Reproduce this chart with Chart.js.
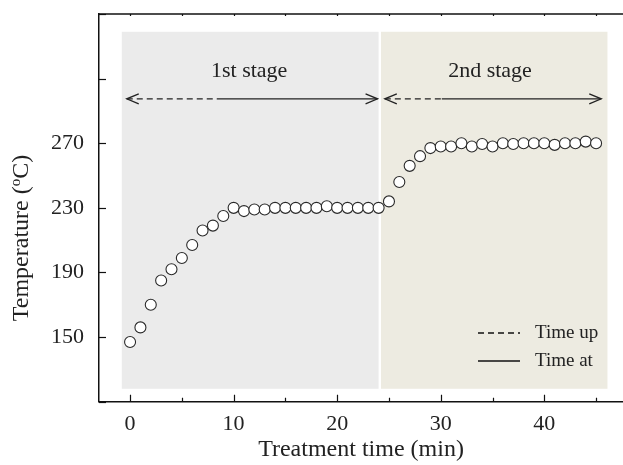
<!DOCTYPE html>
<html>
<head>
<meta charset="utf-8">
<script src="https://cdn.jsdelivr.net/npm/chart.js@4/dist/chart.umd.min.js"></script>
<style>
  html, body { margin: 0; padding: 0; background: #fff; }
</style>
</head>
<body>
<canvas id="tempChart" width="623" height="465"></canvas>
<script>
'use strict'

// treatment time (min) and measured temperature (C)
const minutes = [0, 1, 2, 3, 4, 5, 6, 7, 8, 9, 10, 11, 12, 13, 14, 15, 16, 17, 18, 19, 20, 21, 22,
  23, 24, 25, 26, 27, 28, 29, 30, 31, 32, 33, 34, 35, 36, 37, 38, 39, 40, 41, 42, 43, 44, 45]
const temperature = [147, 156, 170, 185, 192, 199, 207, 216, 219, 225,
  230, 228, 229, 229, 230, 230, 230, 230, 230, 231,
  230, 230, 230, 230, 230, 234, 246, 256, 262, 267,
  268, 268, 270, 268, 269.5, 268, 270, 269.5, 270, 270,
  270, 269, 270, 270, 271, 270]

// axis ticks
const xTicks = [0, 5, 10, 15, 20, 25, 30, 35, 40, 45]
const xLabels = [0, 10, 20, 30, 40]
const yTicks = [110, 150, 190, 230, 270, 310, 350]
const yLabels = [150, 190, 230, 270]

// stages (minutes)
const stageNames = ['1st stage', '2nd stage']
const stageStart = [-0.8, 24.23]
const stageEnd = [24.0, 46.1]
const rampEnd = [8.37, 30.1]      // end of "time up" part
const arrowStart = [-0.32, 24.6]
const arrowEnd = [23.9, 45.5]

const serif = '"Liberation Serif", "Times New Roman", serif'
const ink = '#222'

const decorPlugin = {
  id: 'decor',
  beforeDatasetsDraw (chart) {
    const { ctx, scales: { x, y } } = chart
    const fills = ['#ebebeb', '#edebe1']
    ctx.save()
    stageNames.forEach((name, i) => {
      const l = x.getPixelForValue(stageStart[i])
      const r = x.getPixelForValue(stageEnd[i])
      const t = y.getPixelForValue(339)
      const b = y.getPixelForValue(118)
      ctx.fillStyle = fills[i]
      ctx.fillRect(l, t, r - l, b - t)
    })
    ctx.restore()
  },
  afterDraw (chart) {
    const { ctx, chartArea: area, scales: { x, y } } = chart
    ctx.save()
    ctx.strokeStyle = '#111'
    ctx.lineWidth = 1.2
    // inward ticks on bottom + small ticks on top
    xTicks.forEach(v => {
      const px = Math.round(x.getPixelForValue(v)) + 0.5
      const len = xLabels.includes(v) ? 7 : 4
      ctx.beginPath()
      ctx.moveTo(px, area.bottom)
      ctx.lineTo(px, area.bottom - len)
      ctx.moveTo(px, area.top)
      ctx.lineTo(px, area.top + 2)
      ctx.stroke()
    })
    yTicks.forEach(v => {
      const py = Math.round(y.getPixelForValue(v)) + 0.5
      ctx.beginPath()
      ctx.moveTo(area.left, py)
      ctx.lineTo(area.left + 7, py)
      ctx.stroke()
    })
    // top frame line
    ctx.lineWidth = 1.5
    ctx.beginPath()
    ctx.moveTo(area.left, area.top)
    ctx.lineTo(area.right, area.top)
    ctx.stroke()

    // stage arrows
    const ay = y.getPixelForValue(297.5)
    ctx.lineWidth = 1.3
    ctx.strokeStyle = ink
    stageNames.forEach((name, i) => {
      const x0 = x.getPixelForValue(arrowStart[i])
      const xm = x.getPixelForValue(rampEnd[i])
      const x1 = x.getPixelForValue(arrowEnd[i])
      ctx.setLineDash([6, 4])
      ctx.beginPath()
      ctx.moveTo(x0, ay)
      ctx.lineTo(xm, ay)
      ctx.stroke()
      ctx.setLineDash([])
      ctx.beginPath()
      ctx.moveTo(xm, ay)
      ctx.lineTo(x1, ay)
      ctx.stroke()
      ctx.beginPath()
      ctx.moveTo(x0 + 12, ay - 5)
      ctx.lineTo(x0, ay)
      ctx.lineTo(x0 + 12, ay + 5)
      ctx.moveTo(x1 - 12, ay - 5)
      ctx.lineTo(x1, ay)
      ctx.lineTo(x1 - 12, ay + 5)
      ctx.stroke()
      ctx.fillStyle = ink
      ctx.font = '22px ' + serif
      ctx.textAlign = 'center'
      ctx.textBaseline = 'middle'
      ctx.fillText(name, (x0 + x1) / 2 - 3, y.getPixelForValue(314.4))
    })

    // legend
    ctx.font = '19px ' + serif
    ctx.textAlign = 'left'
    ctx.textBaseline = 'middle'
    ctx.strokeStyle = '#111'
    const legend = [['Time up', [6, 4], 333], ['Time at', [], 361]]
    legend.forEach(([label, dash, ly]) => {
      ctx.setLineDash(dash)
      ctx.beginPath()
      ctx.moveTo(478, ly)
      ctx.lineTo(520, ly)
      ctx.stroke()
      ctx.setLineDash([])
      ctx.fillText(label, 535, ly)
    })

    // y axis title with raised small "o"
    ctx.translate(22, 238)
    ctx.rotate(-Math.PI / 2)
    ctx.textAlign = 'left'
    ctx.textBaseline = 'middle'
    const big = '24px ' + serif
    const small = '15px ' + serif
    const parts = [['Temperature (', big, 0], ['o', small, -6], ['C)', big, 0]]
    let total = 0
    parts.forEach(([t, f]) => { ctx.font = f; total += ctx.measureText(t).width })
    let cx = -total / 2
    parts.forEach(([t, f, dy]) => {
      ctx.font = f
      ctx.fillText(t, cx, dy)
      cx += ctx.measureText(t).width
    })
    ctx.restore()
  }
}

const ctx = document.getElementById('tempChart').getContext('2d')
const chart = new Chart(ctx, {
  type: 'scatter',
  data: {
    datasets: [{
      label: 'Temperature',
      data: minutes.map((m, i) => ({ x: m, y: temperature[i] })),
      pointRadius: 5.5,
      pointBackgroundColor: '#fff',
      pointBorderColor: '#2a2a2a',
      pointBorderWidth: 1.1,
      showLine: false
    }]
  },
  options: {
    responsive: false,
    animation: false,
    layout: { autoPadding: false, padding: { top: 14, right: 0, left: 0, bottom: 0 } },
    plugins: { legend: { display: false }, tooltip: { enabled: false } },
    scales: {
      x: {
        type: 'linear',
        min: -3,
        max: 47.6,
        afterBuildTicks: s => { s.ticks = xTicks.map(v => ({ value: v })) },
        afterFit: s => {
          s.height = 63.3
          s.paddingLeft = 0
          s.paddingRight = 0
        },
        grid: { display: false, drawTicks: false },
        border: { color: '#111', width: 1.5 },
        ticks: {
          autoSkip: false,
          maxRotation: 0,
          padding: 9,
          color: ink,
          font: { family: serif, size: 22 },
          callback: v => xLabels.includes(v) ? String(v) : ''
        },
        title: {
          display: true,
          text: 'Treatment time (min)',
          color: ink,
          font: { family: serif, size: 24 },
          padding: { top: 0, bottom: 1 }
        }
      },
      y: {
        min: 110,
        max: 350,
        afterBuildTicks: s => { s.ticks = yTicks.map(v => ({ value: v })) },
        afterFit: s => {
          s.width = 99
          s.paddingTop = 0
          s.paddingBottom = 0
        },
        grid: { display: false, drawTicks: false },
        border: { color: '#111', width: 1.5 },
        ticks: {
          padding: 15,
          color: ink,
          font: { family: serif, size: 22 },
          callback: v => yLabels.includes(v) ? String(v) : ''
        }
      }
    }
  },
  plugins: [decorPlugin]
})
</script>
</body>
</html>
